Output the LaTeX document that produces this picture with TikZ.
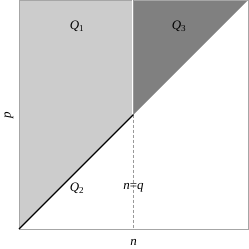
\documentclass[tikz,border=0pt]{standalone}
\usepackage{fontspec}
\setmainfont{Liberation Serif}
\newcommand{\lQ}[1]{\textit{Q}\textsubscript{#1}}
\begin{document}
\begin{tikzpicture}[x=1bp,y=-1bp,
  lab/.style={inner sep=0pt,font=\fontsize{13}{15}\selectfont},
  frame/.style={draw=black!35,line width=0.8bp}]
\useasboundingbox (0,0) rectangle (249,249);
\coordinate (O) at (19,229);
\coordinate (TL) at (19,0);
\coordinate (TM) at (133.5,0);
\coordinate (TR) at (248,0);
\coordinate (BR) at (248,229);
\coordinate (I) at (133.5,114.5);
\coordinate (B) at (133.5,229);
% regions
\fill[black!20] (TL) -- (TM) -- (I) -- (O) -- cycle;
\fill[black!50] (TM) -- (TR) -- (I) -- cycle;
% frame
\draw[frame] (TL) -- (TR) -- (BR) -- (O) -- cycle;
% vertical line
\draw[white,line width=1bp] ([xshift=-1bp]TM) -- ([xshift=-1bp]I);
\draw[black!40,line width=1bp] (TM) -- (I);
\draw[black!40,line width=1bp,dash pattern=on 3bp off 2bp] (I) -- (B);
% diagonal
\draw[white,line width=1bp,shift={(-1,-1)}] (O) -- (I);
\draw[black,line width=1.3bp] (O) -- (I);
% labels
\node[lab] (q1) at (77,26) {\lQ{1}};
\node[lab] (q3) at (179,26) {\lQ{3}};
\node[lab] (q2) at (77,188) {\lQ{2}};
\node[lab] (nq) at (133.5,188) {\textit{n}=\textit{q}};
\node[lab] (n) at (133.5,242) {\textit{n}};
\node[lab,rotate=90] (p) at (9,115) {\textit{p}};
\end{tikzpicture}
\end{document}
